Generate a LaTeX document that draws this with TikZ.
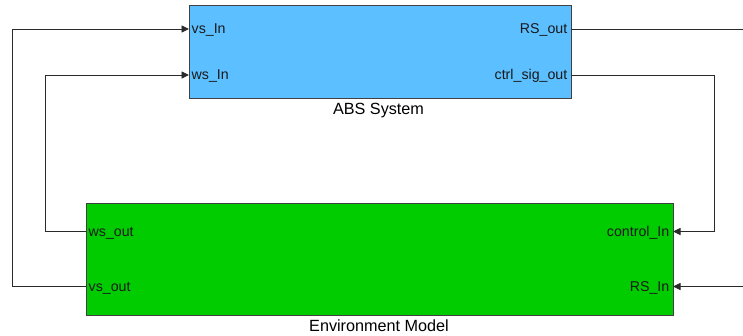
\documentclass[tikz,border=0pt]{standalone}
\usepackage{fontspec}
\setmainfont{Liberation Sans}
\usetikzlibrary{arrows.meta}
\definecolor{absblue}{HTML}{5CBFFF}
\definecolor{envgreen}{HTML}{00CC00}
\definecolor{edgegray}{HTML}{404040}
\definecolor{wiregray}{HTML}{2A2A2A}
\begin{document}
\begin{tikzpicture}[x=1pt,y=-1pt,
  block/.style={draw=edgegray, line width=1pt, inner sep=0pt, anchor=north west},
  port/.style={font=\fontsize{14.2}{17}\selectfont, inner sep=0pt, text=black!90, yshift=-4.7pt},
  title/.style={font=\fontsize{16.2}{19}\selectfont, inner sep=0pt, anchor=base},
  wire/.style={draw=wiregray, line width=0.9pt},
  sig/.style={wire, -{Triangle[length=7.5pt,width=7pt]}}]
\useasboundingbox (0,0) rectangle (743,335);

% blocks
\node[block, fill=absblue, minimum width=381.5pt, minimum height=93pt] (abs) at (189,5) {};
\node[block, fill=envgreen, minimum width=587pt, minimum height=112pt] (env) at (86,203) {};

% block titles
\node[title] (abstitle) at (378.5,114) {ABS System};
\node[title] (envtitle) at (379,331) {Environment Model};

% port positions
\coordinate (absvs) at (189,29);
\coordinate (absws) at (189,75);
\coordinate (absrs) at (570.5,29);
\coordinate (absctrl) at (570.5,75);
\coordinate (envws) at (86,231.5);
\coordinate (envvs) at (86,286.5);
\coordinate (envctrl) at (673,231.5);
\coordinate (envrs) at (673,286.5);
\coordinate (rsend) at (743,29);
\coordinate (rsstart) at (743,286.5);

% port labels
\node[port, anchor=base west, xshift=2.5pt] (lvsin) at (absvs) {vs\_In};
\node[port, anchor=base west, xshift=2.5pt] (lwsin) at (absws) {ws\_In};
\node[port, anchor=base east, xshift=-3pt] (lrsout) at (absrs) {RS\_out};
\node[port, anchor=base east, xshift=-3pt] (lctrlout) at (absctrl) {ctrl\_sig\_out};
\node[port, anchor=base west, xshift=2.5pt] (lwsout) at (envws) {ws\_out};
\node[port, anchor=base west, xshift=2.5pt] (lvsout) at (envvs) {vs\_out};
\node[port, anchor=base east, xshift=-3.5pt] (lctrlin) at (envctrl) {control\_In};
\node[port, anchor=base east, xshift=-3.5pt] (lrsin) at (envrs) {RS\_In};

% signal lines
\draw[sig] (envvs) -- ++(-74,0) |- (absvs);
\draw[sig] (envws) -- ++(-41,0) |- (absws);
\draw[sig] (absctrl) -- ++(143.5,0) |- (envctrl);
\draw[wire] (absrs) -- (rsend);
\draw[sig] (rsstart) -- (envrs);
\end{tikzpicture}
\end{document}
